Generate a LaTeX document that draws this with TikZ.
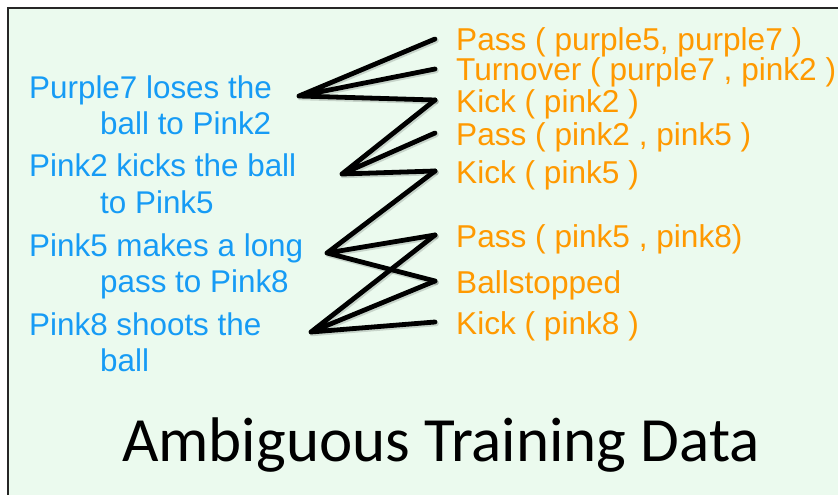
\documentclass[tikz,border=0pt]{standalone}
\usepackage{fontspec}
\setmainfont{Liberation Sans}
\newfontfamily\titlefont{Carlito}
\definecolor{panelbg}{RGB}{235,250,238}
\definecolor{eventblue}{RGB}{22,155,245}
\definecolor{mrorange}{RGB}{255,153,0}
\begin{document}
\begin{tikzpicture}[x=1pt,y=-1pt,
  comment/.style={anchor=base west, inner sep=0pt, text=eventblue,
    font=\fontsize{31.4}{37}\selectfont},
  mrlabel/.style={anchor=base west, inner xsep=21pt, inner ysep=0pt,
    text height=24pt, text depth=0pt, text=mrorange,
    font=\fontsize{31.6}{37}\selectfont},
  link/.style={line width=4.8pt, black, line cap=round},
  linkshadow/.style={line width=5.2pt, black, opacity=0.15, line cap=round,
    transform canvas={xshift=1.2pt, yshift=-1.6pt}}
]
\useasboundingbox (0,0) rectangle (838,495);
% panel
\fill[panelbg] (8,8) rectangle (838,495);
\draw[line width=2.2pt, black!85] (8,495) -- (8,8) -- (838,8);

% natural-language comments
\node[comment] (b1) at (29,98)  {Purple7 loses the};
\node[comment] (b2) at (100,134) {ball to Pink2};
\node[comment] (b3) at (29,176) {Pink2 kicks the ball};
\node[comment] (b4) at (100,213) {to Pink5};
\node[comment] (b5) at (29,256) {Pink5 makes a long};
\node[comment] (b6) at (100,292) {pass to Pink8};
\node[comment] (b7) at (29,335) {Pink8 shoots the};
\node[comment] (b8) at (100,371) {ball};

% candidate meaning representations
\node[mrlabel] (o1) at (435,51)  {Pass ( purple5, purple7 )};
\node[mrlabel] (o2) at (435,81)  {Turnover ( purple7 , pink2 )};
\node[mrlabel] (o3) at (435,112) {Kick ( pink2 )};
\node[mrlabel] (o4) at (435,145) {Pass ( pink2 , pink5 )};
\node[mrlabel] (o5) at (435,183) {Kick ( pink5 )};
\node[mrlabel] (o6) at (435,247) {Pass ( pink5 , pink8)};
\node[mrlabel] (o7) at (435,293) {Ballstopped};
\node[mrlabel] (o8) at (435,334) {Kick ( pink8 )};

% hubs of the link fans
\coordinate (hA) at (299,96);
\coordinate (hB) at (342,174);
\coordinate (hC) at (327,253);
\coordinate (hD) at (311,332);

\foreach \s in {linkshadow, link} {
  \draw[\s] (hA) -- (o1.west) (hA) -- (o2.west) (hA) -- (o3.west);
  \draw[\s] (hB) -- (o3.west) (hB) -- (o4.west) (hB) -- (o5.west);
  \draw[\s] (hC) -- (o5.west) (hC) -- (o6.west) (hC) -- (o7.west);
  \draw[\s] (hD) -- (o6.west) (hD) -- (o7.west) (hD) -- (o8.west);
}

% caption
\node[anchor=base, inner sep=0pt, font=\titlefont\fontsize{63}{74}\selectfont]
  (title) at (441,461) {Ambiguous Training Data};
\end{tikzpicture}
\end{document}
